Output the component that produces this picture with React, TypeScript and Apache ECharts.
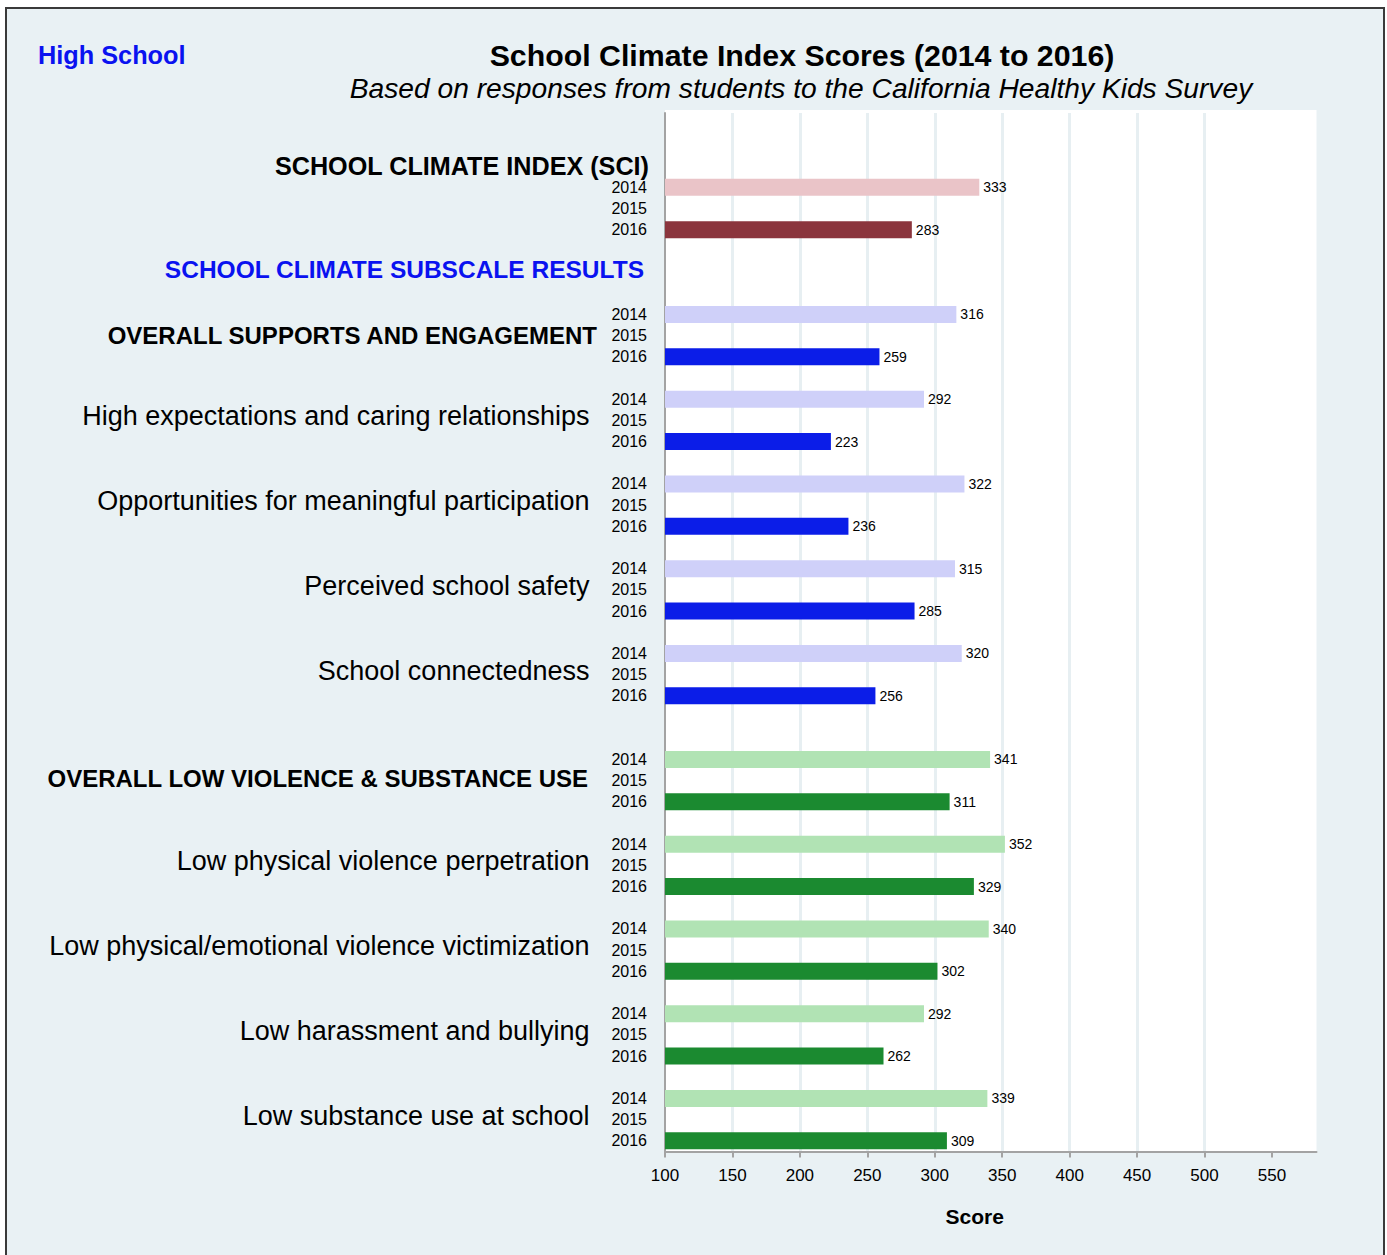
import React, { useEffect, useRef } from "react";
import * as echarts from "echarts";

const groups = [
  "SCHOOL CLIMATE INDEX (SCI)",
  "OVERALL SUPPORTS AND ENGAGEMENT",
  "High expectations and caring relationships",
  "Opportunities for meaningful participation",
  "Perceived school safety",
  "School connectedness",
  "OVERALL LOW VIOLENCE & SUBSTANCE USE",
  "Low physical violence perpetration",
  "Low physical/emotional violence victimization",
  "Low harassment and bullying",
  "Low substance use at school",
];
const groupKinds = ["sci", "supports", "supports", "supports", "supports", "supports", "violence", "violence", "violence", "violence", "violence"];
const labelStyles = ["sci", "headA", "item", "item", "item", "item", "headB", "item", "item", "item", "item"];
const years = ["2014", "2015", "2016"];
const scores2014 = [333, 316, 292, 322, 315, 320, 341, 352, 340, 292, 339];
const scores2016 = [283, 259, 223, 236, 285, 256, 311, 329, 302, 262, 309];
const subscaleHeader = "SCHOOL CLIMATE SUBSCALE RESULTS";
const xTicks = [100, 150, 200, 250, 300, 350, 400, 450, 500, 550];
const gapsBefore = [3, 3, 1, 1, 1, 1, 2, 1, 1, 1, 1];

const palette: Record<string, [string, string]> = {
  sci: ["#eac4c8", "#8b353d"],
  supports: ["#cfd0f9", "#0b1de8"],
  violence: ["#b1e3b4", "#1b8a30"],
};

type Row = { key: string; left: string; group: string; value: number | null; color: string };

function buildRows(): Row[] {
  const rows: Row[] = [];
  groups.forEach((g, gi) => {
    for (let k = 0; k < gapsBefore[gi]; k++) {
      rows.push({ key: `gap${gi}_${k}`, left: "", group: "", value: null, color: "" });
    }
    if (gi === 0) rows[rows.length - 1].left = `{sci|${g}}`;
    if (gi === 1) rows[rows.length - 2].left = `{sub|${subscaleHeader}}`;
    const vals = [scores2014[gi], null, scores2016[gi]];
    const pal = palette[groupKinds[gi]];
    years.forEach((y, yi) => {
      rows.push({
        key: `${gi}_${y}`,
        left: `{yr|${y}}`,
        group: yi === 1 && gi > 0 ? `{${labelStyles[gi]}|${g}}` : "",
        value: vals[yi],
        color: yi === 0 ? pal[0] : pal[1],
      });
    });
  });
  return rows;
}

const FONT = "'Liberation Sans', Arial, Helvetica, sans-serif";
const BLUE = "#0a12f0";

export default function App() {
  const ref = useRef<HTMLDivElement>(null);
  useEffect(() => {
    if (!ref.current) return;
    const chart = echarts.init(ref.current, null, { renderer: "svg" });
    const rows = buildRows();
    const keys = rows.map((r) => r.key);
    const gridLeft = 665;
    const gridTop = 113.1;
    const gridWidth = 651.5;
    const gridHeight = 1038.3;

    chart.setOption({
      animation: false,
      backgroundColor: "#ffffff",
      textStyle: { fontFamily: FONT },
      graphic: [
        {
          type: "rect",
          z: -10,
          shape: { x: 6, y: 8, width: 1378, height: 1300 },
          style: { fill: "#e9f1f4", stroke: "#3a3a3a", lineWidth: 2 },
        },
        {
          type: "rect",
          z: -9,
          shape: { x: gridLeft, y: 110, width: gridWidth, height: gridTop + gridHeight - 110 },
          style: { fill: "#ffffff" },
        },
        {
          type: "text",
          x: 38,
          y: 55,
          style: {
            text: "High School",
            fill: BLUE,
            fontSize: 25.3,
            fontWeight: "bold",
            fontFamily: FONT,
            align: "left",
            verticalAlign: "middle",
          },
        },
        {
          type: "text",
          x: 802,
          y: 55,
          style: {
            text: "School Climate Index Scores (2014 to 2016)",
            fill: "#000",
            fontSize: 30.3,
            fontWeight: "bold",
            fontFamily: FONT,
            align: "center",
            verticalAlign: "middle",
          },
        },
        {
          type: "text",
          x: 801,
          y: 88,
          style: {
            text: "Based on responses from students to the California Healthy Kids Survey",
            fill: "#000",
            fontSize: 28.2,
            fontStyle: "italic",
            fontFamily: FONT,
            align: "center",
            verticalAlign: "middle",
          },
        },
      ],
      grid: { left: gridLeft, top: gridTop, width: gridWidth, height: gridHeight, containLabel: false },
      xAxis: {
        type: "value",
        min: 100,
        max: 583,
        interval: 50,
        position: "bottom",
        axisLine: { show: true, lineStyle: { color: "#a3a3a3", width: 2 } },
        axisTick: { show: true, length: 6, lineStyle: { color: "#a3a3a3", width: 2 }, customValues: xTicks },
        axisLabel: { customValues: xTicks, fontSize: 17, color: "#000", margin: 16, fontFamily: FONT },
        splitLine: { show: true, showMinLine: false, showMaxLine: false, lineStyle: { color: "#e7eff2", width: 3 } },
        name: "Score",
        nameLocation: "middle",
        nameGap: 55,
        nameTextStyle: { fontSize: 21, fontWeight: "bold", color: "#000", padding: [0, 32, 0, 0], fontFamily: FONT },
      },
      yAxis: [
        {
          type: "category",
          data: keys,
          inverse: true,
          position: "left",
          axisLine: { show: true, lineStyle: { color: "#a3a3a3", width: 2 } },
          axisTick: { show: false },
          splitLine: { show: false },
          axisLabel: {
            interval: 0,
            margin: 16,
            formatter: (_v: string, i: number) => rows[i].left,
            rich: {
              yr: { fontSize: 16, color: "#000", padding: [0, 2, 0, 0], fontFamily: FONT },
              sci: { fontSize: 25.2, fontWeight: "bold", color: "#000", fontFamily: FONT },
              sub: { fontSize: 24.5, fontWeight: "bold", color: BLUE, padding: [0, 5, 5, 0], fontFamily: FONT },
            },
          },
        },
        {
          type: "category",
          data: keys,
          inverse: true,
          position: "left",
          axisLine: { show: false },
          axisTick: { show: false },
          splitLine: { show: false },
          axisLabel: {
            interval: 0,
            margin: 68,
            formatter: (_v: string, i: number) => rows[i].group,
            rich: {
              headA: { fontSize: 24, fontWeight: "bold", color: "#000", fontFamily: FONT },
              headB: { fontSize: 24, fontWeight: "bold", color: "#000", padding: [0, 9, 4, 0], fontFamily: FONT },
              item: { fontSize: 27, color: "#000", padding: [0, 7.5, 8, 0], fontFamily: FONT },
            },
          },
        },
      ],
      series: [
        {
          type: "bar",
          xAxisIndex: 0,
          yAxisIndex: 0,
          barWidth: 17,
          data: rows.map((r) =>
            r.value == null ? "-" : { value: r.value, itemStyle: { color: r.color } }
          ),
          label: {
            show: true,
            position: "right",
            distance: 4,
            fontSize: 14,
            color: "#000",
            fontFamily: FONT,
          },
        },
      ],
    });
    return () => chart.dispose();
  }, []);
  return <div ref={ref} style={{ position: "absolute", left: 0, top: 0, width: 1387, height: 1255 }} />;
}
